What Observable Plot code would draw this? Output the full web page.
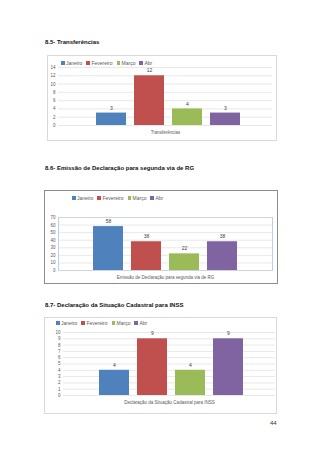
<!DOCTYPE html>
<html><head><meta charset="utf-8">
<script src="https://cdn.jsdelivr.net/npm/d3@7"></script>
<script src="https://cdn.jsdelivr.net/npm/@observablehq/plot@0.6"></script>
<style>
html,body{margin:0;padding:0;background:#fff}
body{width:320px;height:452px;position:relative;overflow:hidden;font-family:"Liberation Sans",Arial,sans-serif}
.title{position:absolute;font-weight:bold;font-size:6px;line-height:8px;color:#111;white-space:nowrap}
.box{position:absolute;box-sizing:border-box;background:#fff}
.legend{position:absolute;font-size:5px;line-height:6px;color:#595959;white-space:nowrap;display:flex}
.legend span.item{display:flex;align-items:center;margin-right:4px}
.legend i{display:inline-block;width:3.5px;height:3.5px;margin-right:1.5px}
.chart{position:absolute}
.page{position:absolute;font-size:6px;color:#333}
</style></head>
<body>
<script>
const months = ["Janeiro", "Fevereiro", "Março", "Abr"];
const colors = ["#4F81BD", "#C0504D", "#9BBB59", "#8064A2"];

const titles = [
  "8.5- Transferências",
  "8.6- Emissão de Declaração para segunda via de RG",
  "8.7- Declaração da Situação Cadastral para INSS"
];
const categories = [
  "Transferências",
  "Emissão de Declaração para segunda via de RG",
  "Declaração da Situação Cadastral para INSS"
];
const transferencias = [3, 12, 4, 3];
const declaracaoRG = [58, 38, 22, 38];
const declaracaoINSS = [4, 9, 4, 9];
const ticks1 = [0, 2, 4, 6, 8, 10, 12, 14];
const ticks2 = [0, 10, 20, 30, 40, 50, 60, 70];
const ticks3 = [0, 1, 2, 3, 4, 5, 6, 7, 8, 9, 10];
const pageNumber = "44";

const layouts = [
  {values: transferencias, ticks: ticks1, title: [45, 38], box: [47, 55, 230, 86], border: "#D9D9D9",
   legend: [61, 60], m: [12, 5, 16, 11], po: 0.889, align: 0.54, frame: false, catDy: 8},
  {values: declaracaoRG, ticks: ticks2, title: [45, 164], box: [44, 190, 234, 94], border: "#8C8C8C",
   legend: [72, 195], m: [27, 6, 14, 14], po: 0.882, align: 0.5, frame: true, catDy: 8},
  {values: declaracaoINSS, ticks: ticks3, title: [45, 301], box: [44, 317, 233, 97], border: "#D9D9D9",
   legend: [56, 320], m: [15, 2, 19, 19], po: 0.828, align: 0.52, frame: false, catDy: 8}
];

function el(tag, cls, style, text) {
  const e = document.createElement(tag);
  if (cls) e.className = cls;
  Object.assign(e.style, style || {});
  if (text != null) e.textContent = text;
  document.body.appendChild(e);
  return e;
}

layouts.forEach((L, i) => {
  el("div", "title", {left: L.title[0] + "px", top: L.title[1] + "px"}, titles[i]);
  const [bx, by, bw, bh] = L.box;
  el("div", "box", {left: bx + "px", top: by + "px", width: bw + "px", height: bh + "px", border: "1px solid " + L.border});

  const data = months.map((m, j) => ({month: m, value: L.values[j]}));
  const [mt, mr, mb, ml] = L.m;
  const ymax = L.ticks[L.ticks.length - 1];
  const marks = [
    Plot.gridY(L.ticks, {stroke: "#D9D9D9", strokeOpacity: 1, strokeWidth: 0.6}),
    Plot.axisY(L.ticks, {tickSize: 0, tickPadding: 3, label: null, fill: "#595959", fontSize: 4.5}),
    Plot.barY(data, {x: "month", y: "value", fill: "month"}),
    Plot.text(data, {x: "month", y: "value", text: d => String(d.value), dy: -5, fill: "#404040", fontSize: 5}),
    Plot.text([categories[i]], {frameAnchor: "bottom", dy: L.catDy, text: d => d, fill: "#595959", fontSize: 4.5})
  ];
  if (L.frame) marks.unshift(Plot.frame({stroke: "#A9C4EB", strokeWidth: 0.8}));
  const svg = Plot.plot({
    width: bw, height: bh,
    marginTop: mt, marginRight: mr, marginBottom: mb, marginLeft: ml,
    style: {fontFamily: "Liberation Sans, Arial, sans-serif", background: "transparent", overflow: "visible"},
    x: {domain: months, paddingInner: 0.22, paddingOuter: L.po, align: L.align, axis: null},
    y: {domain: [0, ymax], axis: null},
    color: {domain: months, range: colors},
    marks
  });
  const wrap = el("div", "chart", {left: bx + "px", top: by + "px", width: bw + "px", height: bh + "px"});
  wrap.appendChild(svg);

  const lg = el("div", "legend", {left: L.legend[0] + "px", top: L.legend[1] + "px"});
  months.forEach((m, j) => {
    const it = document.createElement("span");
    it.className = "item";
    const sw = document.createElement("i");
    sw.style.background = colors[j];
    it.appendChild(sw);
    it.appendChild(document.createTextNode(m));
    lg.appendChild(it);
  });
});

el("div", "page", {left: "270px", top: "420px"}, pageNumber);
</script>
</body></html>
